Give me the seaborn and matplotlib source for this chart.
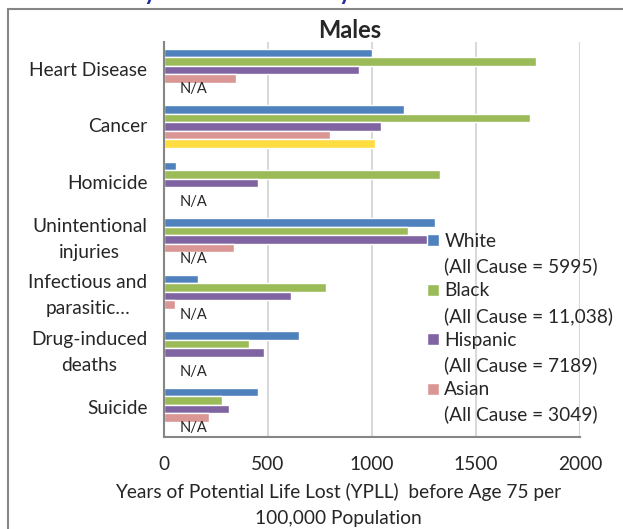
import numpy as np
import pandas as pd
import seaborn as sns
import matplotlib.pyplot as plt
from matplotlib.patches import Patch, Rectangle
from matplotlib.ticker import MultipleLocator, FixedLocator

# YPLL before age 75 per 100,000, males
causes = ["Heart Disease", "Cancer", "Homicide", "Unintentional\ninjuries",
          "Infectious and\nparasitic…", "Drug-induced\ndeaths", "Suicide"]
white = [1002, 1155, 56, 1303, 162, 647, 450]
black = [1787, 1761, 1327, 1173, 779, 409, 279]
hispanic = [939, 1043, 452, 1268, 611, 479, 313]
asian = [345, 800, np.nan, 337, 53, np.nan, 216]
other = [np.nan, 1014, np.nan, np.nan, np.nan, np.nan, np.nan]

groups = ["White", "Black", "Hispanic", "Asian", "Other"]
all_cause = ["5995", "11,038", "7189", "3049"]
colors = ["#4F81BD", "#9BBB59", "#8064A2", "#D99694", "#FFDC41"]

df = pd.DataFrame({"cause": causes, "White": white, "Black": black,
                   "Hispanic": hispanic, "Asian": asian, "Other": other})
df = df.melt(id_vars="cause", var_name="group", value_name="ypll")

sns.set_style("white")
plt.rcParams['font.family'] = ['Lato', 'DejaVu Sans']
gray = "#868686"
fs = 13.8

fig = plt.figure(figsize=(6.23, 5.29), dpi=100)
ax = fig.add_axes([164/623, 1-437/529, 416/623, 395/529])

sns.barplot(data=df, y="cause", x="ypll", hue="group", order=causes, hue_order=groups,
            palette=colors, orient="h", width=0.754, saturation=1, errorbar=None,
            legend=False, ax=ax)

# N/A labels where the last series has no value
for i, v in enumerate(other):
    if np.isnan(v):
        ax.text(75, i + 0.34, "N/A", fontsize=10.5, va="center", ha="left")

ax.set_xlim(0, 2000)
ax.set_ylim(6.5, -0.5)
ax.xaxis.set_major_locator(MultipleLocator(500))
ax.xaxis.set_minor_locator(MultipleLocator(100))
ax.yaxis.set_minor_locator(FixedLocator(np.arange(-0.5, 7, 1)))
ax.grid(axis="x", color="#D9D9D9", lw=1.5)
ax.set_axisbelow(True)
ax.set_xlabel("")
ax.set_ylabel("")

for s in ["top", "right"]:
    ax.spines[s].set_visible(False)
for s in ["left", "bottom"]:
    ax.spines[s].set_color(gray)
    ax.spines[s].set_linewidth(1.5)

ax.tick_params(axis="x", which="major", direction="inout", length=9, width=1.5,
               color=gray, labelsize=fs, pad=9)
ax.tick_params(axis="x", which="minor", direction="in", length=4, width=1.2, color=gray)
ax.tick_params(axis="y", which="major", length=0, labelsize=fs, pad=12)
ax.tick_params(axis="y", which="minor", direction="out", length=5, width=1.5, color=gray)
for lab in ax.get_yticklabels():
    lab.set_multialignment("center")
    lab.set_linespacing(1.65)
    lab.set_verticalalignment("center")

handles, labels = [], []
for g, c, n in zip(groups[:4], colors[:4], all_cause):
    handles += [Patch(facecolor=c), Patch(facecolor="none", edgecolor="none")]
    labels += [g, "(All Cause = %s)" % n]
ax.legend(handles, labels, loc="upper left", bbox_to_anchor=(427/623, 1-233/529),
          bbox_transform=fig.transFigure, frameon=False, fontsize=fs,
          borderpad=0, borderaxespad=0, handlelength=0.6, handleheight=0.6,
          handletextpad=0.3, labelspacing=0.38)

fig.text(350/623, 1-30/529, "Males", ha="center", va="center", fontsize=17, fontweight="bold")
fig.text(338/623, 1-505/529,
         "Years of Potential Life Lost (YPLL)  before Age 75 per\n100,000 Population",
         ha="center", va="center", fontsize=fs, linespacing=1.6, multialignment="center")

# cut-off line of the page heading above the chart
for xp in [150, 345]:
    fig.text(xp/623, 1.0, "y", ha="center", va="baseline", fontsize=17,
             fontweight="bold", color="#1F2E9E")

fig.patches.append(Rectangle((8/623, -0.1), 1.2, 1.1 - 9/529, fill=False,
                             edgecolor=gray, lw=1.5, transform=fig.transFigure))

fig.savefig("out.png", dpi=100)
